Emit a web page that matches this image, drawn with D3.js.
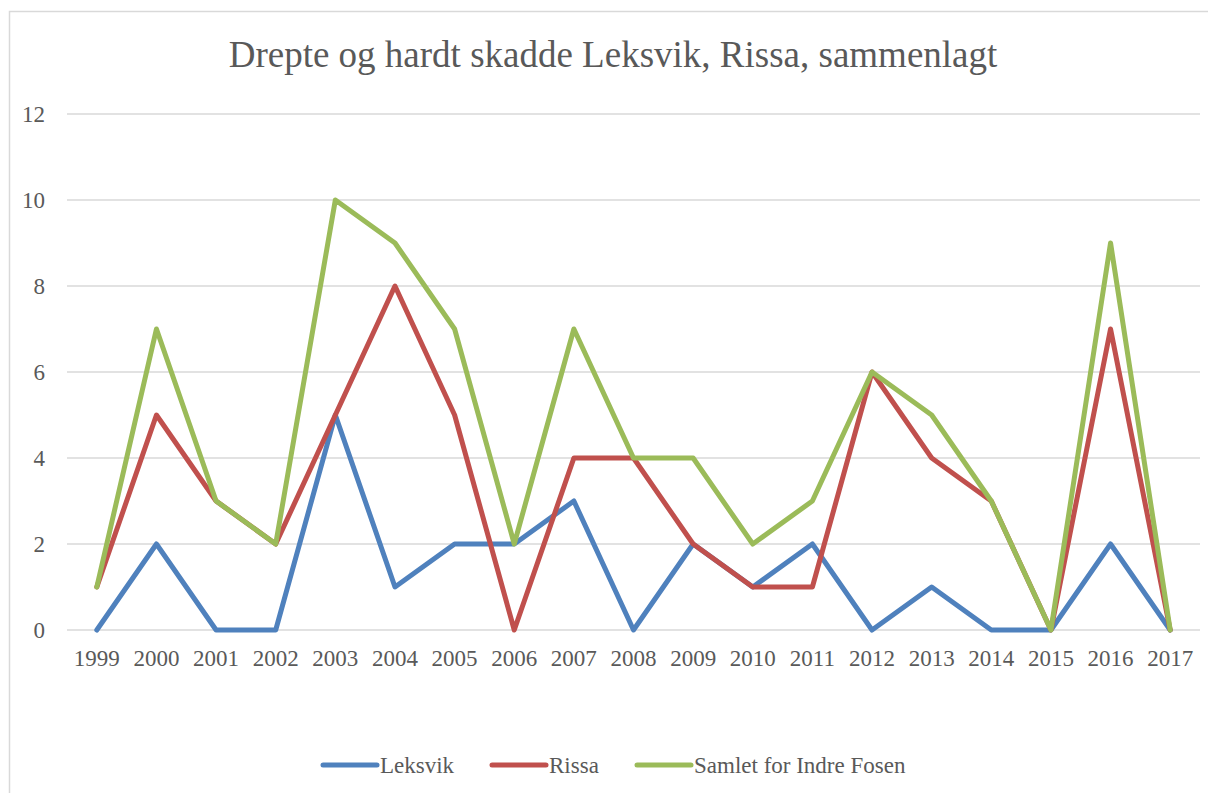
<!DOCTYPE html>
<html>
<head>
<meta charset="utf-8">
<script src="https://cdn.jsdelivr.net/npm/d3@7"></script>
<style>
  body { margin: 0; background: #fff; }
  text { font-family: "Liberation Serif", "Times New Roman", serif; fill: #595959; }
</style>
</head>
<body>
<div id="chart"></div>
<script>
// data
const years = ["1999","2000","2001","2002","2003","2004","2005","2006","2007","2008","2009","2010","2011","2012","2013","2014","2015","2016","2017"]
const leksvik = [0, 2, 0, 0, 5, 1, 2, 2, 3, 0, 2, 1, 2, 0, 1, 0, 0, 2, 0]
const rissa   = [1, 5, 3, 2, 5, 8, 5, 0, 4, 4, 2, 1, 1, 6, 4, 3, 0, 7, 0]
const samlet  = [1, 7, 3, 2, 10, 9, 7, 2, 7, 4, 4, 2, 3, 6, 5, 3, 0, 9, 0]
const yTicks = [0, 2, 4, 6, 8, 10, 12]
const seriesNames = ["Leksvik", "Rissa", "Samlet for Indre Fosen"]
const colors = ["#4f81bd", "#c0504d", "#9bbb59"]

const width = 1208
const height = 793

const svg = d3.select("#chart")
  .append("svg")
    .attr("width", width)
    .attr("height", height)

// chart border
svg.append("rect")
  .attr("x", 9.5).attr("y", 11.5)
  .attr("width", 1240).attr("height", 820)
  .attr("fill", "none")
  .attr("stroke", "#d9d9d9")
  .attr("stroke-width", 1.5)

// title
svg.append("text")
  .attr("x", 613)
  .attr("y", 67)
  .attr("text-anchor", "middle")
  .style("font-size", "37px")
  .text("Drepte og hardt skadde Leksvik, Rissa, sammenlagt")

// scales
const x = d3.scaleBand()
  .domain(years)
  .range([67, 1200])

const y = d3.scaleLinear()
  .domain([0, 12])
  .range([630, 114])

// gridlines
svg.append("g")
  .selectAll("line")
  .data(yTicks)
  .join("line")
    .attr("x1", 67)
    .attr("x2", 1200)
    .attr("y1", d => y(d))
    .attr("y2", d => y(d))
    .attr("stroke", "#d9d9d9")
    .attr("stroke-width", 1.5)

// y axis labels
svg.append("g")
  .selectAll("text")
  .data(yTicks)
  .join("text")
    .attr("x", 45)
    .attr("y", d => y(d))
    .attr("dy", "0.35em")
    .attr("text-anchor", "end")
    .style("font-size", "23px")
    .text(d => d)

// x axis labels
svg.append("g")
  .selectAll("text")
  .data(years)
  .join("text")
    .attr("x", d => x(d) + x.bandwidth() / 2)
    .attr("y", 666)
    .attr("text-anchor", "middle")
    .style("font-size", "23px")
    .text(d => d)

// lines
const allSeries = [leksvik, rissa, samlet]
const line = d3.line()
  .x((d, i) => x(years[i]) + x.bandwidth() / 2)
  .y(d => y(d))

svg.append("g")
  .selectAll("path")
  .data(allSeries)
  .join("path")
    .attr("d", d => line(d))
    .attr("fill", "none")
    .attr("stroke", (d, i) => colors[i])
    .attr("stroke-width", 5)
    .attr("stroke-linejoin", "round")
    .attr("stroke-linecap", "round")

// legend
const legendX = [323, 492, 637]
const legend = svg.append("g")
  .selectAll("g")
  .data(seriesNames)
  .join("g")
    .attr("transform", (d, i) => `translate(${legendX[i]},765)`)

legend.append("line")
  .attr("x1", 0).attr("x2", 54)
  .attr("stroke", (d, i) => colors[i])
  .attr("stroke-width", 5)
  .attr("stroke-linecap", "round")

legend.append("text")
  .attr("x", 57)
  .attr("dy", "0.35em")
  .style("font-size", "23px")
  .text(d => d)
</script>
</body>
</html>
